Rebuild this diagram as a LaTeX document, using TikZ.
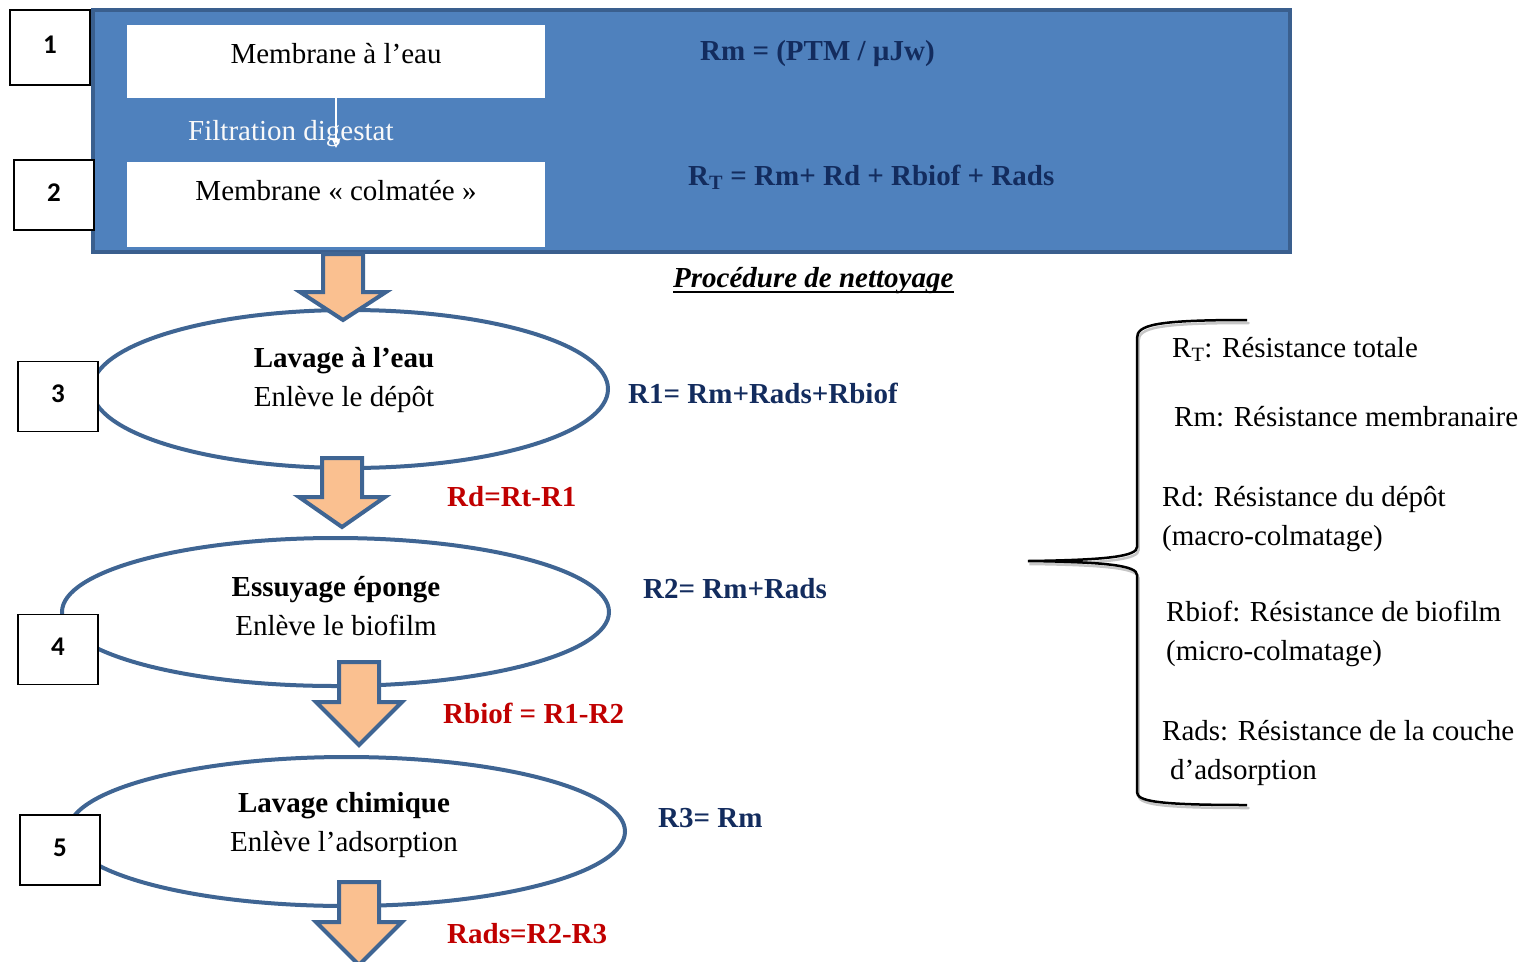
\documentclass[tikz,border=0pt]{standalone}
\usepackage{fontspec}
\setmainfont{Liberation Serif}
\newfontfamily\numfont{Carlito}
\usetikzlibrary{shapes.geometric,arrows.meta}
\definecolor{boxblue}{HTML}{4F81BD}
\definecolor{boxedge}{HTML}{3A5F8E}
\definecolor{elledge}{HTML}{3F6593}
\definecolor{peach}{HTML}{FAC090}
\definecolor{navy}{HTML}{132C5E}
\definecolor{dred}{HTML}{C00000}
\newcommand\fs{\fontsize{29}{39}\selectfont}
\newcommand\blockarr[4]{%
  \draw[blockarrow] (#1-20,#2) -- (#1+20,#2) -- (#1+20,#3) -- (#1+43,#3) -- (#1,#4) -- (#1-43,#3) -- (#1-20,#3) -- cycle;}
\newcommand\numtxt[1]{\raisebox{5pt}{#1}}
\tikzset{
  numbox/.style={draw=black, line width=1.5pt, fill=white, minimum width=80pt, minimum height=70pt, inner sep=0pt, font=\numfont\bfseries\fontsize{27}{30}\selectfont},
  whitebox/.style={fill=white, draw=none, minimum width=418pt, inner sep=0pt},
  stage/.style={ellipse, draw=elledge, line width=4pt, fill=white, inner sep=0pt},
  txt/.style={font=\fs, inner sep=0pt, text=black},
  formula/.style={font=\fs\bfseries, text=navy, inner sep=0pt, anchor=base west},
  diff/.style={font=\fs\bfseries, text=dred, inner sep=0pt, anchor=base west},
  legend/.style={font=\fs, inner sep=0pt, anchor=base west},
  blockarrow/.style={draw=elledge, line width=4pt, fill=peach, line join=miter},
}
\begin{document}
\begin{tikzpicture}[x=1pt,y=-1pt]
\useasboundingbox (0,0) rectangle (1536,961);
\clip (0,0) rectangle (1536,961);

% top panel
\node[draw=boxedge, fill=boxblue, line width=4pt, minimum width=1197pt, minimum height=242pt, inner sep=0pt] (panel) at (691.5,131) {};
\node[whitebox, minimum height=73pt] (m1) at (336,61.5) {};
\node[whitebox, minimum height=85pt] (m2) at (336,204.5) {};
\node[txt, anchor=base] (t1) at (336,63) {Membrane à l’eau};
\node[txt, anchor=base] (t2) at (336,200) {Membrane « colmatée »};
\node[txt, text=white!95!gray, anchor=base west] (filt) at (188,140) {Filtration digestat};
\coordinate (fa) at (336,148);
\draw[white, line width=1.3pt, -{Stealth[length=10pt,width=9pt,open]}] (m1.south) -- (fa);
\node[formula] (f1) at (700,60) {Rm = (PTM / µJw)};
\node[formula] (f2) at (688,185) {R\textsubscript{T} = Rm+ Rd + Rbiof + Rads};

% title
\node[font=\fs\bfseries\itshape, anchor=base west, inner sep=0pt] (proc) at (673,287) {Procédure de nettoyage};
\draw[line width=2pt] ([yshift=-5pt]proc.base west) -- ([yshift=-5pt]proc.base east);

% stages
\node[stage, minimum width=516pt, minimum height=158pt] (e1) at (350,389) {};
\node[stage, minimum width=547pt, minimum height=148pt] (e2) at (335.5,612) {};
\node[stage, minimum width=557pt, minimum height=149pt] (e3) at (346.5,831.5) {};
\node[txt, align=center] (s1) at (344,380) {\textbf{Lavage à l’eau}\\Enlève le dépôt};
\node[txt, align=center] (s2) at (336,606) {\textbf{Essuyage éponge}\\Enlève le biofilm};
\node[txt, align=center] (s3) at (344,825) {\textbf{Lavage chimique}\\Enlève l’adsorption};

% block arrows
\blockarr{343}{254}{292}{320}
\blockarr{342}{458}{497}{527}
\blockarr{359}{662}{702}{745}
\blockarr{359}{882}{922}{965}

% number boxes
\node[numbox, minimum height=75pt] (n1) at (50,47.5) {\numtxt{1}};
\node[numbox] (n2) at (54,195) {\numtxt{2}};
\node[numbox] (n3) at (58,396.5) {\numtxt{3}};
\node[numbox] (n4) at (58,649.5) {\numtxt{4}};
\node[numbox] (n5) at (60,850) {\numtxt{5}};

% formulas
\node[formula] (r1) at (628,403) {R1= Rm+Rads+Rbiof};
\node[diff] (d1) at (447,506) {Rd=Rt-R1};
\node[formula] (r2) at (643,598) {R2= Rm+Rads};
\node[diff] (d2) at (443,723) {Rbiof = R1-R2};
\node[formula] (r3) at (658,827) {R3= Rm};
\node[diff] (d3) at (447,943) {Rads=R2-R3};

% brace
\draw[gray!45, line width=2.5pt, line cap=round, xshift=1.5pt, yshift=-3pt]
  (1247,320) .. controls (1155,320) and (1137,325) .. (1137,338) -- (1137,547)
  .. controls (1137,556) and (1110,560) .. (1028,561)
  .. controls (1110,562) and (1137,566) .. (1137,575) -- (1137,792)
  .. controls (1137,801) and (1155,805) .. (1247,805);
\draw[black, line width=2.5pt]
  (1247,320) .. controls (1155,320) and (1137,325) .. (1137,338) -- (1137,547)
  .. controls (1137,556) and (1110,560) .. (1028,561)
  .. controls (1110,562) and (1137,566) .. (1137,575) -- (1137,792)
  .. controls (1137,801) and (1155,805) .. (1247,805);

% legend
\node[legend] (l1) at (1172,357) {R\textsubscript{T}: Résistance totale};
\node[legend] (l2) at (1174,426) {Rm: Résistance membranaire};
\node[legend] (l3) at (1162,506) {Rd: Résistance du dépôt};
\node[legend] (l4) at (1162,545) {(macro-colmatage)};
\node[legend] (l5) at (1166,621) {Rbiof: Résistance de biofilm};
\node[legend] (l6) at (1166,660) {(micro-colmatage)};
\node[legend] (l7) at (1162,740) {Rads: Résistance de la couche};
\node[legend] (l8) at (1170,779) {d’adsorption};
\end{tikzpicture}
\end{document}
